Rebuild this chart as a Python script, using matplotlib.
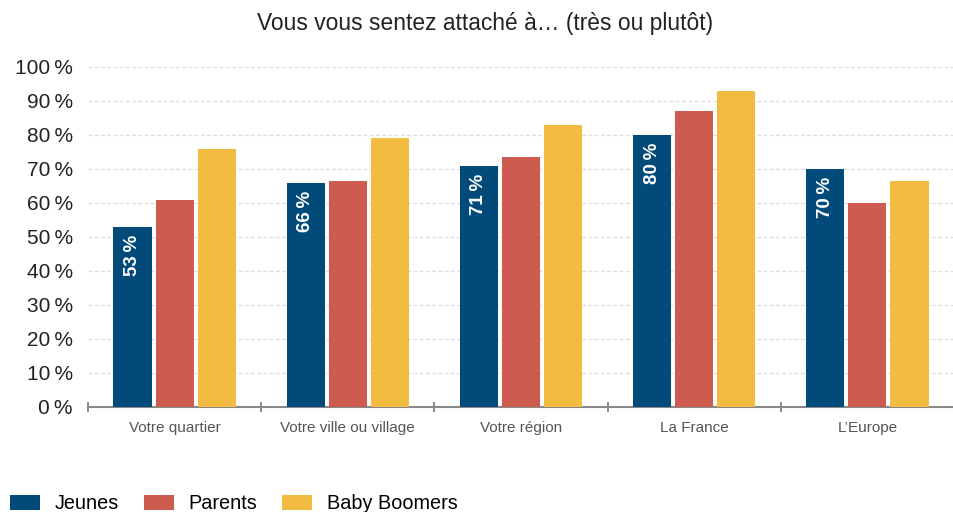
import matplotlib.pyplot as plt
import numpy as np

categories = ["Votre quartier", "Votre ville ou village", "Votre région", "La France", "L’Europe"]
series_names = ["Jeunes", "Parents", "Baby Boomers"]
jeunes = [53, 66, 71, 80, 70]
parents = [61, 66.5, 73.5, 87, 60]
boomers = [76, 79, 83, 93, 66.5]
yticks = [0, 10, 20, 30, 40, 50, 60, 70, 80, 90, 100]

colors = ["#024a7a", "#cd5b50", "#f2bc43"]

plt.rcParams["font.family"] = ["Liberation Sans", "DejaVu Sans"]

fig = plt.figure(figsize=(9.54, 5.12), dpi=100)
ax = fig.add_axes([88 / 954, 105 / 512, 866 / 954, 340 / 512])

x = np.arange(len(categories))
width = 0.22
step = 0.243
values = [jeunes, parents, boomers]
for i, (name, vals) in enumerate(zip(series_names, values)):
    ax.bar(x + (i - 1) * step, vals, width, color=colors[i], label=name, zorder=3)

for xi, v in zip(x, jeunes):
    ax.text(xi - step, v - 2.3, f"{v}\u2009%", rotation=90, ha="center", va="top",
            color="white", fontsize=13.5, fontweight="bold", zorder=4)

ax.set_xlim(-0.5, len(categories) - 0.5)
ax.set_ylim(0, 100)
ax.set_yticks(yticks)
ax.set_yticklabels([f"{t}\u2009%" for t in yticks], fontsize=15, color="#222222")
ax.tick_params(axis="y", length=0, pad=11)
ax.set_xticks(x)
ax.set_xticklabels(categories, fontsize=11, color="#555555")
ax.tick_params(axis="x", which="major", length=0, pad=10)
ax.set_xticks(np.arange(len(categories)) - 0.5, minor=True)
ax.tick_params(axis="x", which="minor", length=7, direction="inout", color="#777777", width=1.2)

ax.yaxis.grid(True, linestyle=(0, (3, 2)), color="#dddddd", linewidth=0.9, zorder=0)
for side in ["top", "right", "left"]:
    ax.spines[side].set_visible(False)
ax.spines["bottom"].set_color("#888888")
ax.spines["bottom"].set_linewidth(1.5)

fig.text(0.508, 0.955, "Vous vous sentez attaché à… (très ou plutôt)", ha="center", va="center",
         fontsize=16.4, color="#222222")

fig.legend(loc="lower left", bbox_to_anchor=(-0.004, -0.03), ncol=3, frameon=False,
           fontsize=14.3, handlelength=1.5, handleheight=0.85, columnspacing=1.25,
           handletextpad=0.75, borderaxespad=0.3)

fig.savefig("out.png", dpi=100)
